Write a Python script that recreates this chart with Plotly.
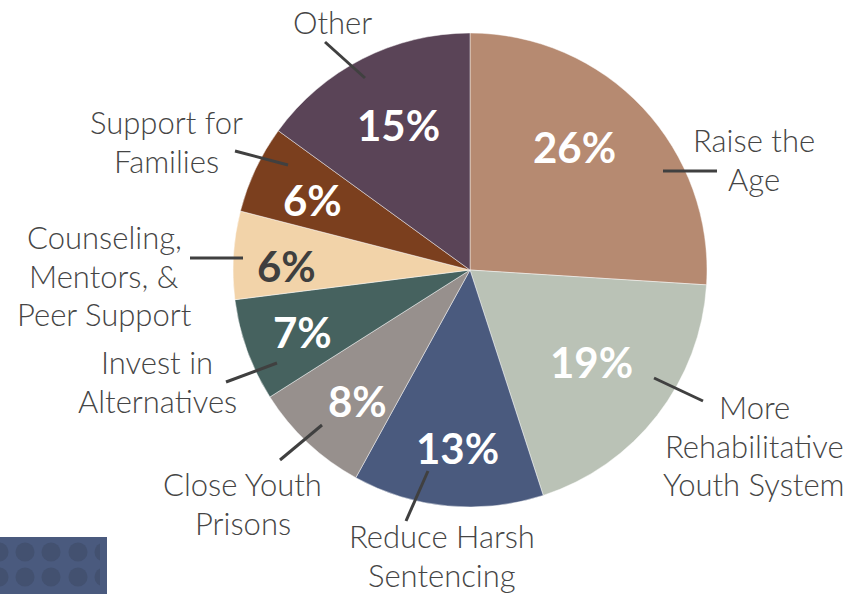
import numpy as np
import plotly.graph_objects as go

# Survey shares by priority, clockwise from 12 o'clock
categories = [
    "Raise the Age",
    "More Rehabilitative Youth System",
    "Reduce Harsh Sentencing",
    "Close Youth Prisons",
    "Invest in Alternatives",
    "Counseling, Mentors, & Peer Support",
    "Support for Families",
    "Other",
]
shares = [26, 19, 13, 8, 7, 6, 6, 15]

# Callout text, one entry per printed line
callout_lines = [
    ["Raise the", "Age"],
    ["More", "Rehabilitative", "Youth System"],
    ["Reduce Harsh", "Sentencing"],
    ["Close Youth", "Prisons"],
    ["Invest in", "Alternatives"],
    ["Counseling,", "Mentors, &", "Peer Support"],
    ["Support for", "Families"],
    ["Other"],
]

slice_colors = ["#B68A71", "#BAC2B6", "#4A5A7E", "#97908D",
                "#46625F", "#F2D3A9", "#7B3F1E", "#5A4457"]
pct_colors = ["white", "white", "white", "white",
              "white", "#3F3F3F", "white", "white"]

W, H = 853, 594
CX, CY, R = 470, 270, 237
LINE_H = 38.5

def px(x):
    return x / W

def py(y):
    return 1 - y / H

# Hand-placed layout for percentage labels, callouts and leader lines (pixels)
pct_pos = [(574, 147), (591, 362), (458, 448), (357, 401),
           (302, 332), (286, 266), (312, 200), (398, 125)]
# (center x, y of first line)
callout_pos = [(754, 140), (754, 407), (442, 536), (243, 484),
               (157, 362), (104, 237), (166, 122), (332, 22)]
leader_lines = [((663, 171), (717, 171)),
                ((654, 378), (703, 401)),
                ((428, 471), (406, 521)),
                ((322, 425), (280, 460)),
                ((277, 363), (226, 382)),
                ((243, 258), (190, 258)),
                ((288, 165), (235, 151)),
                ((365, 78), (325, 42))]

fig = go.Figure()
fig.add_trace(go.Pie(
    labels=categories,
    values=shares,
    sort=False,
    direction="clockwise",
    rotation=0,
    marker=dict(colors=slice_colors, line=dict(color="rgba(255,255,255,0.45)", width=1)),
    textinfo="none",
    hoverinfo="label+percent",
    showlegend=False,
    domain=dict(x=[px(CX - R), px(CX + R)], y=[py(CY + R), py(CY - R)]),
))

annotations = []
for v, (x, y), c in zip(shares, pct_pos, pct_colors):
    annotations.append(dict(
        x=px(x), y=py(y), xref="paper", yref="paper",
        text=f"<b>{v}%</b>", showarrow=False,
        font=dict(family="Lato", size=42, color=c),
        xanchor="center", yanchor="middle",
    ))
for lines, (x, y0) in zip(callout_lines, callout_pos):
    for i, t in enumerate(lines):
        annotations.append(dict(
            x=px(x), y=py(y0 + i * LINE_H), xref="paper", yref="paper",
            text=t, showarrow=False, align="center",
            font=dict(family="Lato", size=31, color="#454545", weight=300),
            xanchor="center", yanchor="middle",
        ))

shapes = []
for (x0, y0), (x1, y1) in leader_lines:
    shapes.append(dict(type="line", xref="paper", yref="paper",
                       x0=px(x0), y0=py(y0), x1=px(x1), y1=py(y1),
                       line=dict(color="#404040", width=3)))

# Dotted blue tile in the lower-left corner
shapes.append(dict(type="rect", xref="paper", yref="paper",
                   x0=0, y0=py(594), x1=px(107), y1=py(537),
                   fillcolor="#4A5A7E", line=dict(width=0), layer="above"))
dot_r = 9.5
for cy in (552, 577):
    for cx in (-1, 25, 51, 78, 104):
        shapes.append(dict(type="circle", xref="paper", yref="paper",
                           x0=px(cx - dot_r), x1=px(cx + dot_r),
                           y0=py(cy + dot_r), y1=py(cy - dot_r),
                           fillcolor="#435170", line=dict(width=0), layer="above"))
# trim the right-hand column of dots to the tile edge
shapes.append(dict(type="rect", xref="paper", yref="paper",
                   x0=px(100), y0=py(594), x1=px(107), y1=py(537),
                   fillcolor="#4A5A7E", line=dict(width=0), layer="above"))
shapes.append(dict(type="rect", xref="paper", yref="paper",
                   x0=px(107), y0=py(594), x1=px(118), y1=py(537),
                   fillcolor="white", line=dict(width=0), layer="above"))

fig.update_layout(
    width=W, height=H,
    margin=dict(l=0, r=0, t=0, b=0),
    paper_bgcolor="white",
    plot_bgcolor="white",
    annotations=annotations,
    shapes=shapes,
)

fig.write_html("out.html")
